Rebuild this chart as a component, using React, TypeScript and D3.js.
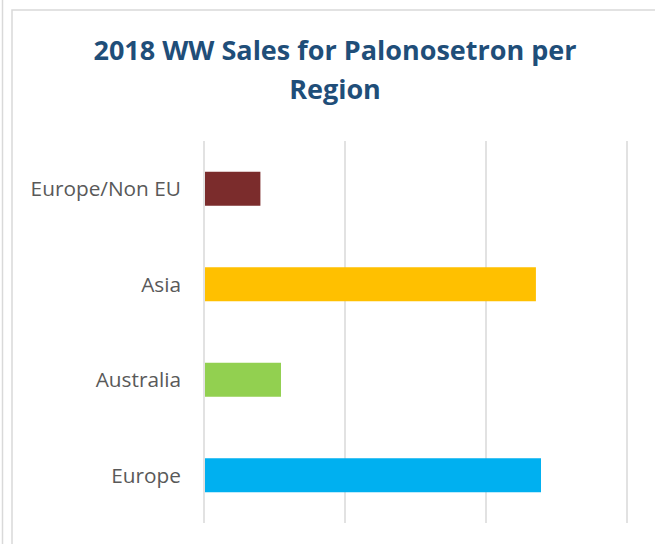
import React from "react";
import * as d3 from "d3";

const categories = ["Europe/Non EU", "Asia", "Australia", "Europe"];
const values = [2.0, 11.77, 2.73, 11.95];
const colors = ["#7B2C2C", "#FFC000", "#92D050", "#00B0F0"];
const tickValues = [0, 5, 10, 15];
const titleLines = ["2018 WW Sales for Palonosetron per", "Region"];

export default function App() {
  const W = 655, H = 544;
  const x = d3.scaleLinear().domain([0, 15]).range([204, 627]);
  const y = d3.scaleBand().domain(categories).range([141, 523]).paddingInner(0.644).paddingOuter(0.322);
  return (
    <svg width={W} height={H} style={{ position: "absolute", left: 0, top: 0, background: "#fff" }}>
      <line x1={2.5} x2={2.5} y1={0} y2={H} stroke="#d9d9d9" strokeWidth={1.5} />
      <rect x={12} y={10} width={700} height={600} fill="#fff" stroke="#d9d9d9" strokeWidth={1.5} />
      {titleLines.map((t, i) => (
        <text key={i} x={335} y={60 + i * 38.5} textAnchor="middle" fontFamily="'Open Sans', sans-serif" fontWeight={700} fontSize={27} fill="#1F4E79">{t}</text>
      ))}
      {tickValues.map((t) => (
        <line key={t} x1={x(t)} x2={x(t)} y1={141} y2={523} stroke="#d9d9d9" strokeWidth={1.5} />
      ))}
      {categories.map((c, i) => (
        <g key={c}>
          <rect x={x(0) + 1} y={y(c)!} width={x(values[i]) - x(0) - 1} height={y.bandwidth()} fill={colors[i]} />
          <text x={181} y={y(c)! + y.bandwidth() / 2} dy="0.35em" textAnchor="end" fontFamily="'Open Sans', sans-serif" fontSize={20.8} fill="#595959">{c}</text>
        </g>
      ))}
    </svg>
  );
}
